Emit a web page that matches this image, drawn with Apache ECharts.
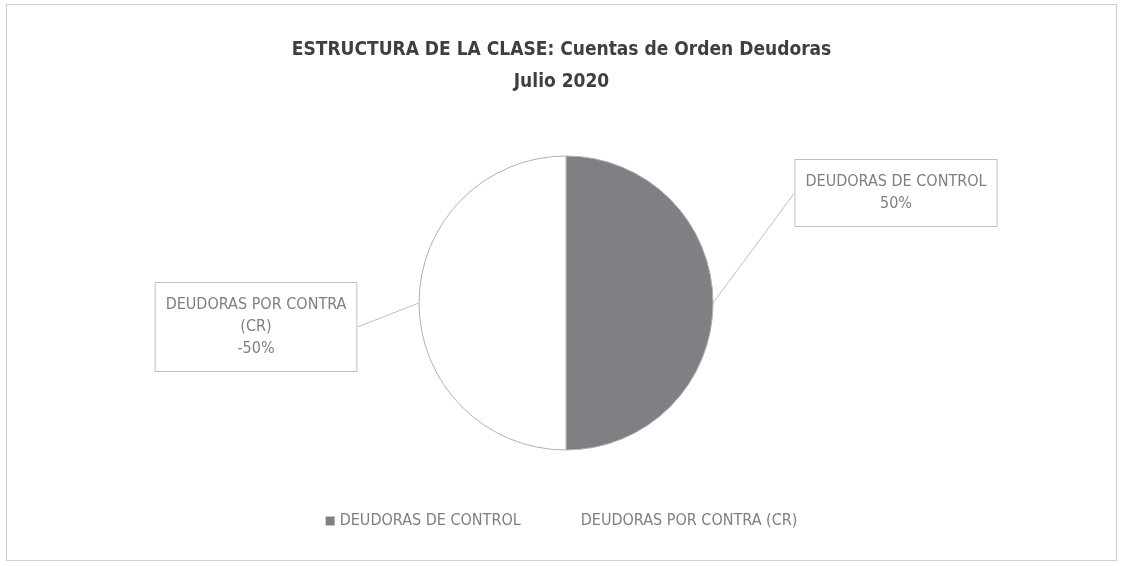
<!DOCTYPE html>
<html>
<head>
<meta charset="utf-8">
<script src="https://cdn.jsdelivr.net/npm/echarts@6/dist/echarts.min.js"></script>
<style>
  html, body { margin: 0; padding: 0; background: #fff; }
  #chart { position: absolute; left: 6px; top: 4px; width: 1111px; height: 557px; border: 1px solid #d0d0d0; box-sizing: border-box; }
</style>
</head>
<body>
<div id="chart"></div>
<script>
// datos del grafico
var categorias = ["DEUDORAS DE CONTROL", "DEUDORAS POR CONTRA (CR)"];
var porcentajes = [50, -50];
var colores = ["#7f7f84", "#ffffff"];
var etiquetas = ["DEUDORAS DE CONTROL\n50%", "DEUDORAS POR CONTRA\n(CR)\n-50%"];

var fuente = "'DejaVu Sans Condensed', 'DejaVu Sans', sans-serif";

var datos = [];
for (var i = 0; i < categorias.length; i++) {
    datos.push({
        name: categorias[i],
        value: Math.abs(porcentajes[i]),
        itemStyle: { color: colores[i] },
        label: { formatter: etiquetas[i] }
    });
}

var myChart = echarts.init(document.getElementById('chart'));

var option = {
    animation: false,
    title: {
        text: 'ESTRUCTURA DE LA CLASE: Cuentas de Orden Deudoras\nJulio 2020',
        left: 'center',
        top: 24,
        textStyle: {
            fontFamily: fuente,
            fontWeight: 'bold',
            fontSize: 19,
            lineHeight: 32,
            color: '#3f3f3f'
        }
    },
    legend: {
        bottom: 26,
        left: 'center',
        icon: 'rect',
        itemWidth: 9,
        itemHeight: 9,
        itemGap: 46,
        data: categorias,
        itemStyle: { borderWidth: 0 },
        textStyle: { fontFamily: fuente, fontSize: 16, color: '#7f7f7f' }
    },
    series: [{
        type: 'pie',
        center: [559, 298],
        radius: 147,
        startAngle: 90,
        data: datos,
        itemStyle: { borderColor: '#b0b0b0', borderWidth: 1 },
        label: {
            show: true,
            fontFamily: fuente,
            fontSize: 16,
            lineHeight: 22,
            color: '#7f7f7f',
            align: 'center',
            backgroundColor: '#fff',
            borderColor: '#bfbfbf',
            borderWidth: 1,
            padding: [11, 10]
        },
        labelLine: { show: true, length: 30, length2: 0, lineStyle: { color: '#bfbfbf', width: 1 } },
        labelLayout: function (params) {
            if (params.dataIndex === 0) {
                return { x: 889, y: 188, align: 'center', verticalAlign: 'middle' };
            }
            return { x: 249, y: 322, align: 'center', verticalAlign: 'middle' };
        }
    }]
};

myChart.setOption(option);
</script>
</body>
</html>
